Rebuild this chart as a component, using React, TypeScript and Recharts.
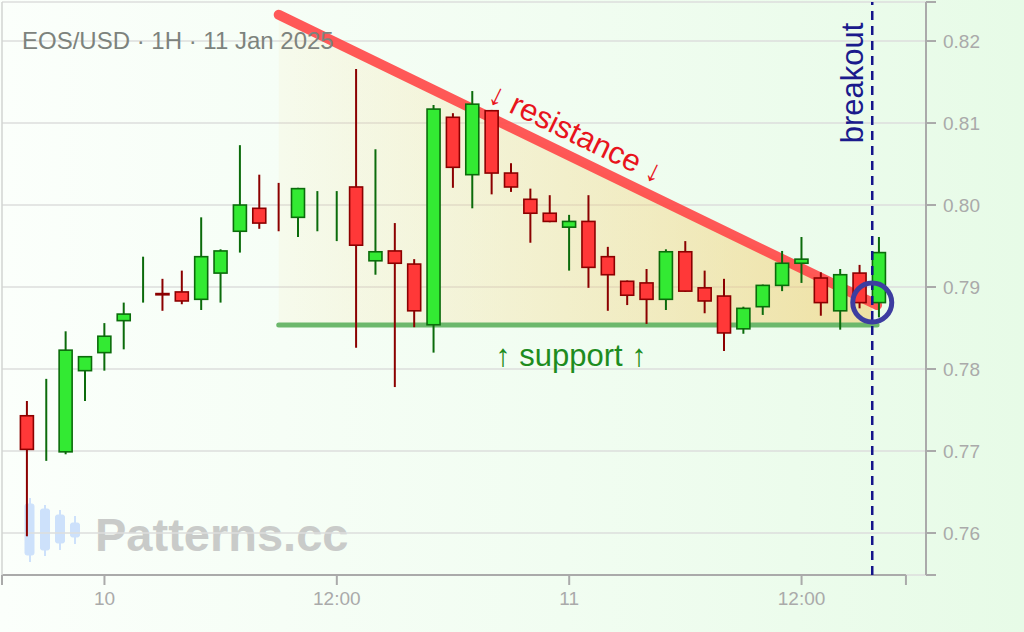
import React from "react";
import {
  ComposedChart,
  Bar,
  Area,
  XAxis,
  YAxis,
  CartesianGrid,
  ReferenceLine,
  ReferenceDot,
} from "recharts";

// hourly candles, 9 Jan 20:00 -> 11 Jan 16:00
const opens = [
  0.7743, 0.774, 0.7699, 0.7798, 0.782, 0.7859, 0.7905, 0.7892, 0.7894, 0.7885,
  0.7917, 0.7968, 0.7996, 0.79982, 0.7985, 0.7993, 0.7985, 0.8022, 0.7932, 0.7944,
  0.7928, 0.7854, 0.8107, 0.8037, 0.8115, 0.8039, 0.8007, 0.799, 0.7973, 0.798,
  0.7937, 0.7907, 0.7905, 0.7885, 0.7943, 0.7899, 0.7889, 0.7849, 0.7876, 0.7902,
  0.7929, 0.7911, 0.7871, 0.7917, 0.7881,
];
const highs = [
  0.7761, 0.7788, 0.7846, 0.7815, 0.7856, 0.7881, 0.7937, 0.791, 0.792, 0.7985,
  0.7946, 0.8073, 0.8037, 0.8027, 0.8021, 0.8017, 0.8017, 0.8166, 0.8068, 0.7978,
  0.7934, 0.8122, 0.8112, 0.8139, 0.8116, 0.8051, 0.802, 0.8012, 0.7988, 0.8012,
  0.7949, 0.7908, 0.7922, 0.7946, 0.7956, 0.792, 0.791, 0.7876, 0.7903, 0.7944,
  0.7961, 0.7918, 0.7922, 0.7927, 0.7961,
];
const lows = [
  0.7596, 0.7688, 0.7696, 0.7761, 0.7798, 0.7824, 0.7881, 0.7871, 0.7879, 0.7872,
  0.7881, 0.7942, 0.7971, 0.7968, 0.7961, 0.7968, 0.7956, 0.7826, 0.7915, 0.7778,
  0.7851, 0.782, 0.8021, 0.7996, 0.8013, 0.8016, 0.7954, 0.7979, 0.792, 0.7899,
  0.7871, 0.7878, 0.7855, 0.7872, 0.7894, 0.7868, 0.7822, 0.7843, 0.7866, 0.7895,
  0.7905, 0.7865, 0.7848, 0.7874, 0.7863,
];
const closes = [
  0.7702, 0.774, 0.7823, 0.7815, 0.784, 0.7867, 0.7905, 0.78905, 0.7883, 0.7937,
  0.7944, 0.8, 0.7978, 0.7998, 0.802, 0.7993, 0.7985, 0.7951, 0.7943, 0.7929,
  0.7871, 0.8117, 0.8046, 0.8123, 0.8039, 0.8022, 0.799, 0.798, 0.798, 0.7924,
  0.7915, 0.789, 0.7885, 0.7943, 0.7895, 0.7883, 0.7844, 0.7874, 0.7902, 0.7929,
  0.7934, 0.7881, 0.7915, 0.7881, 0.7942,
];

// x ticks (candle index) and their labels
const xTickIdx = [4, 16, 28, 40];
const xTickLabels = ["10", "12:00", "11", "12:00"];
const yTicks = [0.76, 0.77, 0.78, 0.79, 0.8, 0.81, 0.82];

// pattern lines
const resistance = [
  { x: 13.0, y: 0.8232 },
  { x: 43.9, y: 0.7878 },
];
const support = [
  { x: 13.0, y: 0.78537 },
  { x: 43.9, y: 0.78537 },
];
const triangle = [
  { x: 13.0, band: [0.78537, 0.8232] },
  { x: 43.65, band: [0.78537, 0.78809] },
];
const breakoutIdx = 43.65;
const breakoutPrice = 0.78811;

const xMin = -1.291;
const xAxisEnd = 45.39;
const xMax = 46.426;
const yMin = 0.75488;
const yMax = 0.82476;

const candles = opens.map((o, i) => ({
  x: i,
  open: o,
  high: highs[i],
  low: lows[i],
  close: closes[i],
  range: [lows[i], highs[i]],
}));

const xTicks = [xMin, ...xTickIdx, xAxisEnd];
const xLabel = (v: number) => {
  const k = xTickIdx.indexOf(v);
  return k >= 0 ? xTickLabels[k] : "";
};
const yLabel = (v: number) => (v === yMin || v === yMax ? "" : v.toFixed(2));

function Candle(props: any) {
  const { x, y, width, height, payload } = props;
  if (x == null || y == null || !payload) return null;
  const { open, close, high, low } = payload;
  const top = Math.min(y, y + height);
  const h = Math.abs(height);
  const k = h / (high - low);
  const cx = x + width / 2;
  const bTop = top + (high - Math.max(open, close)) * k;
  const bBot = top + (high - Math.min(open, close)) * k;
  const up = close >= open;
  const edge = up ? "#0b6b0b" : "#8b0000";
  const fill = up ? "#33ea33" : "#ff3838";
  return (
    <g>
      <line x1={cx} x2={cx} y1={top} y2={top + h} stroke={edge} strokeWidth={2} />
      {bBot - bTop > 0.5 && (
        <rect
          x={cx - 6.5}
          y={bTop}
          width={13}
          height={bBot - bTop}
          fill={fill}
          stroke={edge}
          strokeWidth={1.6}
        />
      )}
    </g>
  );
}

export default function App() {
  return (
    <div
      style={{
        position: "fixed",
        left: 0,
        top: 0,
        width: 1024,
        height: 632,
        fontFamily: "'Liberation Sans', Arial, sans-serif",
        background: "linear-gradient(to right, #fbfffb 0%, #f1fdf1 55%, #e7fbe7 100%)",
        overflow: "hidden",
      }}
    >
      {/* watermark under the chart */}
      <svg width={1024} height={632} style={{ position: "absolute", left: 0, top: 0 }}>
        <g fill="#cde1fb" stroke="#cde1fb">
          <line x1={30} x2={30} y1={498} y2={562} strokeWidth={2} />
          <rect x={25} y={504} width={9} height={51} rx={2} />
          <line x1={45} x2={45} y1={505} y2={556} strokeWidth={2} />
          <rect x={40.5} y={509} width={9} height={41} rx={2} />
          <line x1={60} x2={60} y1={510} y2={550} strokeWidth={2} />
          <rect x={55.5} y={515} width={9} height={28} rx={2} />
          <line x1={75} x2={75} y1={516} y2={544} strokeWidth={2} />
          <rect x={70.5} y={523} width={9} height={14} rx={2} />
        </g>
        <text x={95} y={551} fontSize={47} fontWeight="bold" fill="#c9cbc9">
          Patterns.cc
        </text>
      </svg>

      <div style={{ position: "absolute", left: 0, top: 0 }}>
        <ComposedChart
          width={1024}
          height={632}
          data={candles}
          margin={{ top: 2, right: 0, bottom: 0, left: 2 }}
        >
          <defs>
            <linearGradient id="triFill" x1="0" y1="0" x2="1" y2="0">
              <stop offset="0%" stopColor="#f6d27c" stopOpacity={0.08} />
              <stop offset="100%" stopColor="#f3c862" stopOpacity={0.52} />
            </linearGradient>
          </defs>
          <CartesianGrid horizontal vertical={false} stroke="#dcdedc" strokeWidth={1.5} />
          <XAxis
            dataKey="x"
            type="number"
            domain={[xMin, xMax]}
            allowDataOverflow
            ticks={xTicks}
            interval={0}
            tickFormatter={xLabel}
            axisLine={false}
            tickLine={{ stroke: "#aaaaaa", strokeWidth: 2 }}
            tickSize={10}
            tickMargin={7}
            tick={{ fill: "#aaaaaa", fontSize: 19 }}
            height={57}
          />
          <YAxis
            orientation="right"
            type="number"
            domain={[yMin, yMax]}
            allowDataOverflow
            ticks={[yMin, ...yTicks, yMax]}
            interval={0}
            tickFormatter={yLabel}
            axisLine={{ stroke: "#aaaaaa", strokeWidth: 2 }}
            tickLine={{ stroke: "#aaaaaa", strokeWidth: 2 }}
            tickSize={10}
            tickMargin={7}
            tick={{ fill: "#aaaaaa", fontSize: 19 }}
            width={98}
          />
          <ReferenceLine
            segment={[
              { x: xMin, y: yMin },
              { x: xAxisEnd, y: yMin },
            ]}
            stroke="#aaaaaa"
            strokeWidth={2}
            ifOverflow="visible"
          />
          <ReferenceLine x={xMin} stroke="#d2d4d2" strokeWidth={1.5} ifOverflow="visible" />
          <Area
            data={triangle}
            dataKey="band"
            type="linear"
            stroke="none"
            fill="url(#triFill)"
            fillOpacity={1}
            isAnimationActive={false}
          />
          <Area
            data={support}
            dataKey="y"
            type="linear"
            fill="none"
            stroke="#6cb86c"
            strokeWidth={5}
            strokeLinecap="round"
            dot={false}
            activeDot={false}
            isAnimationActive={false}
          />
          <Area
            data={resistance}
            dataKey="y"
            type="linear"
            fill="none"
            stroke="#ff4a4a"
            strokeOpacity={0.92}
            strokeWidth={10}
            strokeLinecap="round"
            dot={false}
            activeDot={false}
            isAnimationActive={false}
          />
          <Bar dataKey="range" barSize={14} shape={<Candle />} isAnimationActive={false} />
          <ReferenceLine
            x={breakoutIdx}
            stroke="#14148a"
            strokeWidth={2.5}
            strokeDasharray="9 6"
            ifOverflow="visible"
          />
          <ReferenceDot
            x={breakoutIdx}
            y={breakoutPrice}
            r={19.5}
            fill="none"
            stroke="#3d3da0"
            strokeWidth={5}
            ifOverflow="visible"
          />
        </ComposedChart>
      </div>

      {/* annotations */}
      <svg
        width={1024}
        height={632}
        style={{ position: "absolute", left: 0, top: 0, pointerEvents: "none" }}
      >
        <text x={22} y={49} fontSize={24} fill="#7d837d">
          EOS/USD · 1H · 11 Jan 2025
        </text>
        <text
          transform="translate(576,133) rotate(25.9)"
          textAnchor="middle"
          dominantBaseline="central"
          fontSize={31}
          fill="#e8141c"
        >
          ↓ resistance ↓
        </text>
        <text
          x={571}
          y={355}
          textAnchor="middle"
          dominantBaseline="central"
          fontSize={31}
          fill="#1e8c1e"
        >
          ↑ support ↑
        </text>
        <text
          transform="translate(852,83) rotate(-90)"
          textAnchor="middle"
          dominantBaseline="central"
          fontSize={31}
          fill="#1a1a8c"
        >
          breakout
        </text>
      </svg>
    </div>
  );
}
